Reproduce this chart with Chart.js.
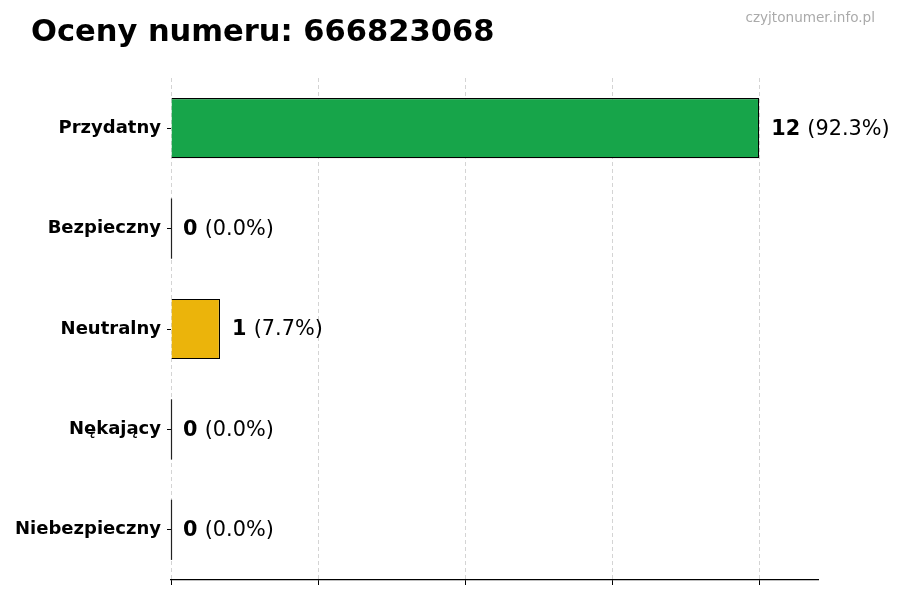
<!DOCTYPE html>
<html>
<head>
<meta charset="utf-8">
<script src="https://cdn.jsdelivr.net/npm/chart.js@4.4.0/dist/chart.umd.min.js"></script>
<style>
  html, body { margin: 0; padding: 0; background: #fff; }
  #wrap { width: 900px; height: 600px; }
</style>
</head>
<body>
<div id="wrap"><canvas id="oceny" width="900" height="600"></canvas></div>
<script>
const numer = '666823068';
const kategorie = ['Przydatny', 'Bezpieczny', 'Neutralny', 'Nękający', 'Niebezpieczny'];
const liczbaOcen = [12, 0, 1, 0, 0];
const kolory = ['#17a54a', '#3b82c4', '#ebb40b', '#e67e22', '#d62728'];
const ticksX = [0, 3, 6, 9, 12];

const suma = liczbaOcen.reduce((a, b) => a + b, 0);

// napisy przy slupkach: "12 (92.3%)"
const etykietyWartosci = {
  id: 'etykietyWartosci',
  afterDatasetsDraw(chart) {
    const { ctx } = chart;
    const meta = chart.getDatasetMeta(0);
    ctx.save();
    ctx.textBaseline = 'middle';
    meta.data.forEach((bar, i) => {
      const v = liczbaOcen[i];
      if (v === 0) {
        // cienka krawedz pustego slupka
        ctx.strokeStyle = '#222';
        ctx.lineWidth = 1.2;
        ctx.beginPath();
        ctx.moveTo(bar.base + 0.5, bar.y - bar.height / 2);
        ctx.lineTo(bar.base + 0.5, bar.y + bar.height / 2);
        ctx.stroke();
      }
      const proc = suma ? (v / suma * 100).toFixed(1) : '0.0';
      let x = bar.x + 12;
      const y = bar.y + 1;
      ctx.fillStyle = '#000';
      ctx.font = 'bold 20.8px "DejaVu Sans"';
      ctx.fillText(String(v), x, y);
      x += ctx.measureText(String(v) + ' ').width;
      ctx.font = '20.8px "DejaVu Sans"';
      ctx.fillText('(' + proc + '%)', x, y);
    });
    ctx.restore();
  }
};

const naglowek = {
  id: 'naglowek',
  afterDraw(chart) {
    const { ctx } = chart;
    ctx.save();
    ctx.textBaseline = 'alphabetic';
    ctx.fillStyle = '#000';
    ctx.font = 'bold 30.5px "DejaVu Sans"';
    ctx.textAlign = 'left';
    ctx.fillText('Oceny numeru: ' + numer, 31, 41);
    ctx.fillStyle = '#aaaaaa';
    ctx.font = '13.6px "DejaVu Sans"';
    ctx.textAlign = 'right';
    ctx.fillText('czyjtonumer.info.pl', 875, 22);
    ctx.restore();
  }
};

new Chart(document.getElementById('oceny'), {
  type: 'bar',
  data: {
    labels: kategorie,
    datasets: [{
      data: liczbaOcen,
      backgroundColor: kolory,
      borderColor: '#000',
      borderWidth: 1.2,
      barPercentage: 0.6,
      categoryPercentage: 1.0
    }]
  },
  options: {
    indexAxis: 'y',
    responsive: false,
    animation: false,
    devicePixelRatio: 1,
    layout: {
      padding: { top: 78, right: 82, bottom: 0, left: 0 }
    },
    plugins: {
      legend: { display: false },
      tooltip: { enabled: false }
    },
    scales: {
      x: {
        min: 0,
        max: 13.2,
        z: 1,
        afterBuildTicks: (scale) => {
          scale.ticks = ticksX.map((v) => ({ value: v }));
        },
        afterFit: (scale) => {
          scale.height = 20;
        },
        ticks: { display: false },
        grid: {
          color: 'rgba(160,160,160,0.45)',
          lineWidth: 1,
          drawTicks: true,
          tickLength: 5,
          tickColor: '#000',
          tickWidth: 1
        },
        border: { display: true, color: '#000', width: 1.2, dash: [4, 3] }
      },
      y: {
        afterFit: (scale) => {
          scale.width = 171;
        },
        ticks: {
          color: '#000',
          padding: 6,
          font: { family: 'DejaVu Sans', size: 18, weight: 'bold' }
        },
        grid: {
          offset: false,
          drawOnChartArea: false,
          drawTicks: true,
          tickLength: 4,
          tickColor: '#000'
        },
        border: { display: false }
      }
    }
  },
  plugins: [etykietyWartosci, naglowek]
});
</script>
</body>
</html>
